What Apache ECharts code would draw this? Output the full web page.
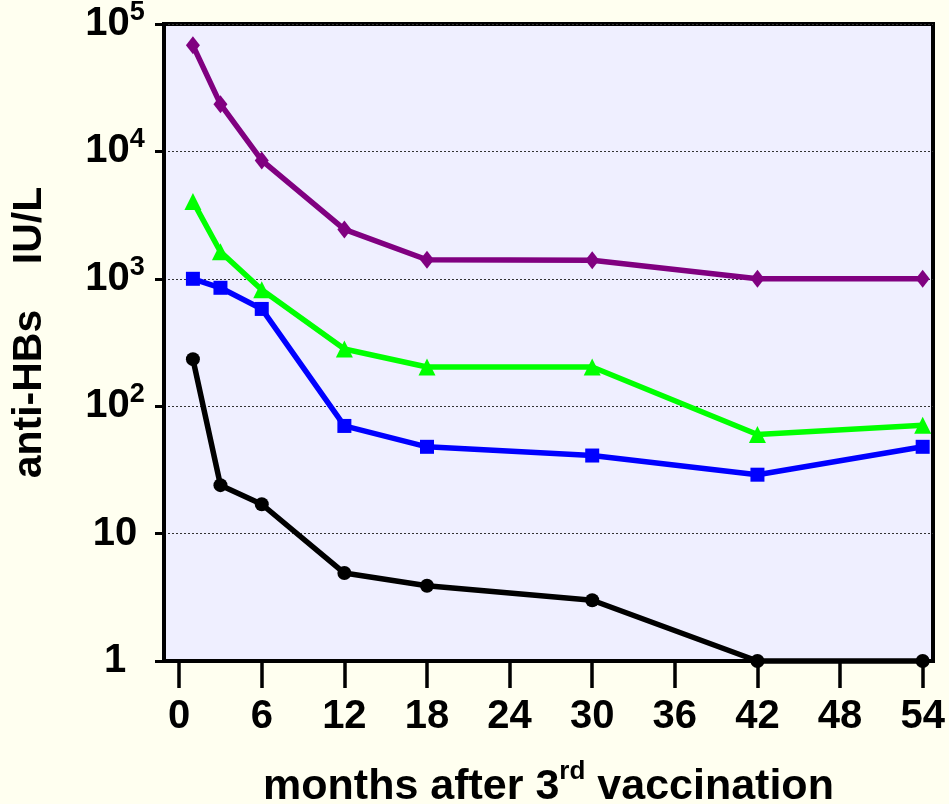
<!DOCTYPE html>
<html>
<head>
<meta charset="utf-8">
<script src="https://cdn.jsdelivr.net/npm/echarts@6/dist/echarts.min.js"></script>
<style>
html,body{margin:0;padding:0;background:#FFFFF0;}
#chart{width:949px;height:804px;}
</style>
</head>
<body>
<div id="chart"></div>
<script>
// ---- data ----
const months = [1, 3, 6, 12, 18, 30, 42, 54];
const purpleValues = [68000, 23500, 8500, 2440, 1410, 1400, 1000, 1000];
const greenValues = [4050, 1630, 820, 281, 203, 203, 60, 71];
const blueValues = [1000, 850, 580, 70, 48, 41, 29, 48];
const blackValues = [234, 24, 17, 4.9, 3.9, 3.0, 1, 1];
const xTickValues = [0, 6, 12, 18, 24, 30, 36, 42, 48, 54];
const yTickExponents = {1: '1', 10: '10', 100: '2', 1000: '3', 10000: '4', 100000: '5'};
const xTitleParts = ['months after 3', 'rd', ' vaccination'];
const yTitle = 'anti-HBs    IU/L';

const FONT = '"Liberation Sans", Arial, Helvetica, sans-serif';

function pairs(vals) { return months.map((m, i) => [m, vals[i]]); }

const chart = echarts.init(document.getElementById('chart'), null, {renderer: 'canvas'});

function mkSeries(name, vals, color, symbol, size, z) {
  return {
    name: name, type: 'line', data: pairs(vals), z: z,
    clip: false,
    symbol: symbol, symbolSize: size,
    lineStyle: {color: color, width: 5.5},
    itemStyle: {color: color},
    emphasis: {disabled: true},
    animation: false
  };
}

chart.setOption({
  backgroundColor: '#FFFFF0',
  animation: false,
  grid: {
    left: 164, right: 16, top: 24, bottom: 143,
    outerBoundsMode: 'none', containLabel: false,
    show: true, backgroundColor: '#EFEFFF', borderColor: '#000', borderWidth: 4
  },
  xAxis: {
    type: 'value', min: -1.1, max: 54.75,
    axisLine: {show: true, onZero: false, lineStyle: {color: '#000', width: 4}},
    axisTick: {show: true, customValues: xTickValues, length: 27, inside: false, lineStyle: {color: '#000', width: 3.5}},
    axisLabel: {
      customValues: xTickValues, margin: 36,
      color: '#000', fontFamily: FONT, fontWeight: 'bold', fontSize: 40
    },
    splitLine: {show: false},
    name: '{b|' + xTitleParts[0] + '}{s|' + xTitleParts[1] + '}{b|' + xTitleParts[2] + '}',
    nameLocation: 'middle', nameGap: 98,
    nameTextStyle: {
      rich: {
        b: {fontFamily: FONT, fontWeight: 'bold', fontSize: 43, color: '#000', lineHeight: 50, verticalAlign: 'bottom'},
        s: {fontFamily: FONT, fontWeight: 'bold', fontSize: 26, color: '#000', lineHeight: 26, verticalAlign: 'top'}
      }
    }
  },
  yAxis: {
    type: 'log', logBase: 10, min: 1, max: 100000,
    axisLine: {show: true, onZero: false, lineStyle: {color: '#000', width: 4}},
    axisTick: {show: true, length: 9, lineStyle: {color: '#000', width: 3}},
    minorTick: {show: false},
    axisLabel: {
      margin: 49, align: 'center',
      formatter: function (v) {
        const k = Math.round(v);
        const e = yTickExponents[k];
        if (k === 1 || k === 10) return '{b|' + e + '}';
        return '{b|10}{s|' + e + '}';
      },
      rich: {
        b: {fontFamily: FONT, fontWeight: 'bold', fontSize: 40, color: '#000', lineHeight: 50, verticalAlign: 'middle'},
        s: {fontFamily: FONT, fontWeight: 'bold', fontSize: 27, color: '#000', lineHeight: 27, verticalAlign: 'top'}
      }
    },
    splitLine: {show: true, lineStyle: {color: '#333', width: 1, type: [2, 2]}},
    name: yTitle,
    nameLocation: 'middle', nameGap: 114, nameRotate: 90,
    nameTextStyle: {fontFamily: FONT, fontWeight: 'bold', fontSize: 41, color: '#000', padding: [0, 0, 0, 20]}
  },
  series: [
    mkSeries('black', blackValues, '#000000', 'circle', 14, 3),
    mkSeries('blue', blueValues, '#0000FF', 'rect', 14, 4),
    mkSeries('green', greenValues, '#00FF00', 'triangle', 17, 5),
    mkSeries('purple', purpleValues, '#800080', 'diamond', [14, 18], 6)
  ]
});
</script>
</body>
</html>
